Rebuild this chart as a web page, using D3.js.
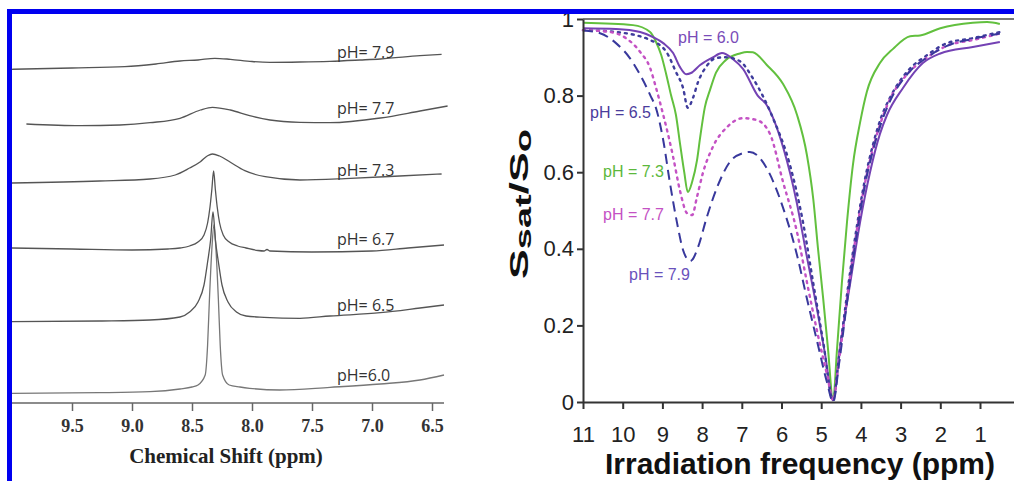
<!DOCTYPE html>
<html>
<head>
<meta charset="utf-8">
<script src="https://cdn.jsdelivr.net/npm/d3@7"></script>
<style>
  body { margin: 0; background: #fff; }
  svg { display: block; }
</style>
</head>
<body>
<div class="chart"></div>
<script>
// left panel: 1H spectra, [ppm, intensity a.u.]
const nmrLabels = ['pH=6.0', 'pH= 6.5', 'pH= 6.7', 'pH= 7.3', 'pH= 7.7', 'pH= 7.9'];
const nmr60 = [[10.0,9.7],[9.27,10.3],[8.85,11.3],[8.6,14],[8.5,16],[8.45,18],[8.39,28],[8.37,58],[8.355,103],[8.335,153],[8.317,178],[8.30,153],[8.28,103],[8.265,58],[8.245,28],[8.19,18],[8.1,16],[8.02,14.7],[7.77,13],[7.35,15.7],[6.93,19],[6.6,23],[6.4,28]];
const nmr65 = [[10.0,81.3],[9.27,82],[8.85,83],[8.6,86],[8.52,91],[8.45,101],[8.40,118],[8.37,141],[8.345,163],[8.325,191],[8.305,163],[8.28,141],[8.25,118],[8.2,101],[8.13,91],[8.05,87],[7.9,85.7],[7.6,84.7],[7.35,87],[6.93,90.3],[6.6,95],[6.4,98]];
const nmr67 = [[10.0,155],[9.5,154],[9.0,153],[8.7,154],[8.6,155],[8.52,157],[8.45,161],[8.40,168],[8.37,180],[8.35,196],[8.335,213],[8.32,232],[8.305,213],[8.29,196],[8.27,180],[8.24,168],[8.19,161],[8.12,157],[8.05,155],[7.95,152.5],[7.9,152],[7.875,153.5],[7.85,152],[7.5,151],[7.0,152],[6.7,155],[6.4,158]];
const nmr73 = [[10.0,220],[9.27,222],[8.85,224],[8.64,228],[8.52,235],[8.43,241.3],[8.37,247.3],[8.33,249],[8.27,247],[8.18,240.7],[8.06,232.3],[7.89,226.3],[7.6,223],[7.18,224.7],[6.77,227],[6.42,229]];
const nmr77 = [[9.88,279],[9.43,277.3],[9.1,278],[8.85,280.3],[8.6,284.7],[8.43,293],[8.33,295.7],[8.18,293],[8.02,287.3],[7.85,283],[7.6,280.7],[7.35,280.3],[6.93,285],[6.6,292],[6.37,297]];
const nmr79 = [[10.0,333.7],[9.5,335],[9.06,336.3],[8.8,339],[8.6,342],[8.45,343],[8.31,344.7],[8.18,343.7],[8.0,341.5],[7.85,340.7],[7.6,341],[7.35,341.7],[7.1,343],[6.93,344],[6.6,347.3],[6.42,348.7]];
const nmrTicks = [9.5, 9.0, 8.5, 8.0, 7.5, 7.0, 6.5];

// right panel: Z-spectra, [ppm, Ssat/S0]
const zLabels = ['pH = 6.0', 'pH = 6.5', 'pH = 7.3', 'pH = 7.7', 'pH = 7.9'];
const z60 = [[11,0.976],[10.17,0.974],[9.56,0.966],[9.24,0.953],[8.98,0.937],[8.73,0.911],[8.56,0.875],[8.4,0.856],[8.28,0.859],[8.05,0.88],[7.73,0.9],[7.5,0.911],[7.22,0.895],[6.97,0.87],[6.6,0.8],[6.37,0.775],[5.95,0.662],[5.62,0.523],[5.37,0.384],[5.11,0.245],[4.9,0.123],[4.7,0.005],[4.53,0.14],[4.27,0.31],[4.02,0.47],[3.77,0.6],[3.52,0.7],[3.34,0.75],[2.94,0.82],[2.44,0.885],[2.0,0.91],[1.18,0.927],[0.5,0.94]];
const z65 = [[11,0.971],[10.17,0.966],[9.31,0.945],[8.9,0.914],[8.66,0.862],[8.48,0.82],[8.36,0.768],[8.23,0.794],[8.1,0.836],[7.9,0.875],[7.65,0.898],[7.4,0.9],[7.05,0.89],[6.72,0.845],[6.21,0.74],[5.79,0.62],[5.46,0.47],[5.2,0.31],[4.95,0.157],[4.7,0.005],[4.55,0.12],[4.35,0.28],[4.1,0.46],[3.9,0.58],[3.7,0.67],[3.5,0.74],[3.27,0.794],[2.84,0.862],[2.33,0.906],[1.83,0.937],[1.18,0.95],[0.5,0.966]];
const z73 = [[11,0.99],[9.74,0.984],[9.31,0.966],[9.16,0.94],[9.03,0.906],[8.9,0.854],[8.78,0.8],[8.66,0.75],[8.55,0.67],[8.45,0.6],[8.36,0.548],[8.25,0.575],[8.13,0.63],[8.05,0.69],[7.93,0.77],[7.8,0.815],[7.65,0.86],[7.4,0.893],[7.05,0.91],[6.87,0.914],[6.72,0.913],[6.37,0.88],[5.96,0.83],[5.61,0.75],[5.36,0.645],[5.2,0.53],[5.08,0.4],[4.95,0.27],[4.83,0.14],[4.7,0.005],[4.6,0.14],[4.48,0.31],[4.35,0.47],[4.2,0.62],[4.02,0.73],[3.85,0.81],[3.52,0.885],[3.19,0.922],[2.76,0.955],[2.51,0.957],[2.0,0.976],[1.18,0.99],[0.82,0.992],[0.5,0.987]];
const z77 = [[11,0.971],[10.32,0.966],[9.92,0.95],[9.56,0.914],[9.31,0.872],[9.16,0.82],[8.98,0.75],[8.86,0.7],[8.73,0.64],[8.56,0.553],[8.38,0.493],[8.25,0.488],[8.13,0.535],[7.98,0.598],[7.73,0.666],[7.37,0.718],[6.97,0.741],[6.62,0.736],[6.29,0.7],[5.96,0.574],[5.61,0.444],[5.36,0.313],[5.1,0.183],[4.85,0.07],[4.7,0.005],[4.55,0.11],[4.35,0.27],[4.1,0.45],[3.9,0.57],[3.7,0.66],[3.5,0.73],[3.27,0.79],[2.84,0.855],[2.33,0.9],[1.83,0.93],[1.18,0.945],[0.5,0.962]];
const z79 = [[11,0.97],[10.57,0.963],[10.17,0.937],[9.82,0.898],[9.56,0.854],[9.31,0.802],[9.14,0.76],[8.98,0.684],[8.81,0.572],[8.63,0.467],[8.48,0.397],[8.3,0.368],[8.25,0.371],[8.1,0.405],[7.88,0.483],[7.62,0.561],[7.3,0.627],[6.97,0.65],[6.8,0.653],[6.62,0.645],[6.37,0.61],[5.96,0.507],[5.61,0.384],[5.36,0.27],[5.1,0.157],[4.85,0.05],[4.7,0.0],[4.55,0.1],[4.35,0.26],[4.1,0.44],[3.9,0.565],[3.7,0.655],[3.5,0.725],[3.27,0.785],[2.84,0.855],[2.33,0.9],[1.83,0.93],[1.18,0.948],[0.5,0.962]];
const zXTicks = [11, 10, 9, 8, 7, 6, 5, 4, 3, 2, 1];
const zYTicks = [0, 0.2, 0.4, 0.6, 0.8, 1];

const width = 1014, height = 481;
const svg = d3.select('.chart').append('svg')
  .attr('width', width).attr('height', height);

// ---- left panel ----
const xL = d3.scaleLinear().domain([10, 6.4]).range([12, 444]);
const yL = d3.scaleLinear().domain([0, 390]).range([403, 13]);
const lineL = d3.line().x(d => xL(d[0])).y(d => yL(d[1])).curve(d3.curveMonotoneX);

const spectra = [nmr60, nmr65, nmr67, nmr73, nmr77, nmr79];
const specColor = ['#777', '#555', '#555', '#555', '#555', '#555'];
svg.append('g').selectAll('path')
  .data(spectra).enter().append('path')
  .attr('d', lineL)
  .attr('fill', 'none')
  .attr('stroke', (d, i) => specColor[i])
  .attr('stroke-width', 1.3);

// label baselines sit just above the right end of each trace
const labelY = [381, 311, 245, 176, 114, 58];
svg.append('g').selectAll('text')
  .data(nmrLabels).enter().append('text')
  .attr('x', 337).attr('y', (d, i) => labelY[i])
  .attr('font-family', 'Open Sans, sans-serif')
  .attr('font-size', 16)
  .attr('fill', '#333')
  .text(d => d);

const axL = svg.append('g').attr('transform', 'translate(0,403)');
axL.call(d3.axisBottom(xL).tickValues(d3.range(99, 64, -1).map(v => v / 10)).tickSize(4).tickFormat(''));
axL.call(d3.axisBottom(xL).tickValues(nmrTicks).tickSize(8).tickFormat(d3.format('.1f')).tickPadding(8));
axL.selectAll('path, line').attr('stroke', '#666').attr('stroke-width', 1.5);
axL.select('.domain').attr('d', 'M12,0H444');
axL.selectAll('text')
  .attr('font-family', 'Liberation Serif, Times New Roman, serif')
  .attr('font-weight', 'bold')
  .attr('font-size', 18)
  .attr('fill', '#333');

svg.append('text')
  .attr('x', 226).attr('y', 463)
  .attr('text-anchor', 'middle')
  .attr('font-family', 'Liberation Serif, Times New Roman, serif')
  .attr('font-weight', 'bold')
  .attr('font-size', 21)
  .attr('fill', '#222')
  .text('Chemical Shift (ppm)');

// ---- right panel ----
const xR = d3.scaleLinear().domain([11, 0]).range([583, 583 + 11 * 39.7]);
const yR = d3.scaleLinear().domain([0, 1]).range([402, 19]);
const lineR = d3.line().x(d => xR(d[0])).y(d => yR(d[1])).curve(d3.curveMonotoneX);

const zSeries = [
  { data: z60, color: '#7442b4', dash: null },
  { data: z65, color: '#3e3c9c', dash: '2,5' },
  { data: z73, color: '#62c03e', dash: null },
  { data: z77, color: '#c452c4', dash: '2,5' },
  { data: z79, color: '#38389c', dash: '10,6' }
];

// top frame line
svg.append('line')
  .attr('x1', xR(11)).attr('x2', width)
  .attr('y1', yR(1)).attr('y2', yR(1))
  .attr('stroke', '#777').attr('stroke-width', 2);

svg.append('g').selectAll('path')
  .data([zSeries[2], zSeries[0], zSeries[1], zSeries[3], zSeries[4]])
  .enter().append('path')
  .attr('d', d => lineR(d.data))
  .attr('fill', 'none')
  .attr('stroke', d => d.color)
  .attr('stroke-width', d => d.dash === '2,5' ? 2.4 : 2)
  .attr('stroke-linecap', d => d.dash === '2,5' ? 'round' : 'butt')
  .attr('stroke-dasharray', d => d.dash);

const zLabelPos = [[678, 43], [590, 118], [603, 177], [603, 220], [629, 280]];
const zLabelColor = ['#7a4cb8', '#4a3c9c', '#5cb83c', '#c452c4', '#6a52bc'];
svg.append('g').selectAll('text')
  .data(zLabels).enter().append('text')
  .attr('x', (d, i) => zLabelPos[i][0])
  .attr('y', (d, i) => zLabelPos[i][1])
  .attr('font-family', 'Liberation Sans, Arial, sans-serif')
  .attr('font-size', 16)
  .attr('fill', (d, i) => zLabelColor[i])
  .text(d => d);

const axX = svg.append('g').attr('transform', `translate(0,${yR(0)})`)
  .call(d3.axisBottom(xR).tickValues(zXTicks).tickSize(7).tickSizeOuter(0).tickPadding(17));
const axY = svg.append('g').attr('transform', `translate(${xR(11)},0)`)
  .call(d3.axisLeft(yR).tickValues(zYTicks).tickSize(6).tickSizeOuter(0).tickPadding(3)
    .tickFormat(d => d === 0 || d === 1 ? d : d.toFixed(1)));
[axX, axY].forEach(a => {
  a.selectAll('path, line').attr('stroke', '#333').attr('stroke-width', 2);
  a.selectAll('text')
    .attr('font-family', 'Liberation Sans, Arial, sans-serif')
    .attr('font-size', 22)
    .attr('fill', '#222');
});

svg.append('text')
  .attr('x', 800).attr('y', 474)
  .attr('text-anchor', 'middle')
  .attr('font-family', 'Liberation Sans, Arial, sans-serif')
  .attr('font-weight', 'bold')
  .attr('font-size', 30)
  .attr('fill', '#111')
  .text('Irradiation frequency (ppm)');

// y label S_sat/S_o, stretched along its length to fit the reference
const yLab = svg.append('g').attr('transform', 'translate(528,204) rotate(-90)');
const yText = yLab.append('text')
  .attr('text-anchor', 'middle')
  .attr('font-family', 'Liberation Sans, Arial, sans-serif')
  .attr('font-weight', 'bold')
  .attr('font-size', 26)
  .attr('fill', '#111');
yText.append('tspan').text('S');
yText.append('tspan').attr('font-size', 22).attr('dy', 3).text('sat');
yText.append('tspan').attr('dy', -3).text('/S');
yText.append('tspan').attr('font-size', 22).attr('dy', 3).text('o');
const natural = yText.node().getBBox().width;
yText.attr('transform', `scale(${150 / natural},1)`);

// blue frame
svg.append('rect').attr('x', 7).attr('y', 9).attr('width', width - 7).attr('height', 5).attr('fill', '#0000f0');
svg.append('rect').attr('x', 7).attr('y', 9).attr('width', 5).attr('height', height - 9).attr('fill', '#0000f0');
</script>
</body>
</html>
